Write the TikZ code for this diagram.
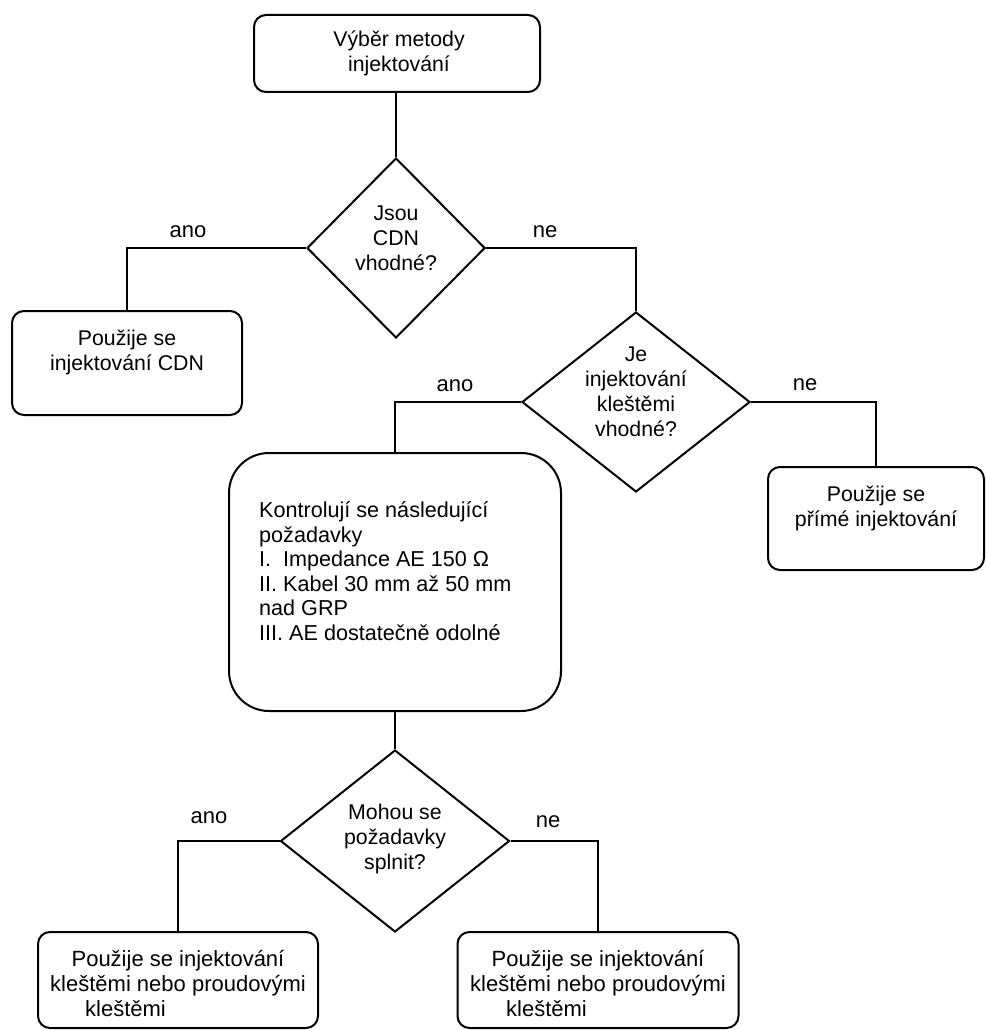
\documentclass[tikz,border=0pt]{standalone}
\usepackage{fontspec}
\setmainfont{Liberation Sans}
\usetikzlibrary{shapes.geometric}
\begin{document}
\begin{tikzpicture}[x=1pt,y=-1pt,
  box/.style={draw, line width=2pt, rounded corners=12pt, inner sep=0pt},
  dia/.style={draw, diamond, line width=2pt, inner sep=0pt},
  txt/.style={align=center, font=\fontsize{21.3}{25}\selectfont, inner sep=0pt},
  ltxt/.style={align=left, font=\fontsize{21.6}{24.5}\selectfont, inner sep=0pt},
  btxt/.style={align=center, font=\fontsize{22}{25}\selectfont, inner sep=0pt},
  lbl/.style={font=\fontsize{22}{25}\selectfont, inner sep=0pt},
  conn/.style={line width=2pt}]
\useasboundingbox (0,0) rectangle (985,1030);

% boxes and decisions
\node[box, minimum width=286pt, minimum height=77pt] (top) at (397,53.5) {};
\node[txt] (ttop) at (399,53.5) {Výběr metody\\injektování};

\node[dia, minimum width=178pt, minimum height=180pt] (d1) at (396,248) {};
\node[txt] (td1) at (396,238) {Jsou\\CDN\\vhodné?};

\node[box, minimum width=230pt, minimum height=104pt] (cdn) at (127,363) {};
\node[txt] (tcdn) at (127,352) {Použije se\\injektování CDN};

\node[dia, minimum width=228pt, minimum height=180pt] (d2) at (636,402) {};
\node[txt] (td2) at (636,392) {Je\\injektování\\kleštěmi\\vhodné?};

\node[box, minimum width=216pt, minimum height=103pt] (prime) at (876,518.5) {};
\node[txt] (tprime) at (876,508) {Použije se\\přímé injektování};

\node[box, rounded corners=40pt, minimum width=332pt, minimum height=258pt] (big) at (395,582) {};
\node[ltxt, anchor=west] (tbig) at (259,571) {Kontrolují se následující\\požadavky\\I.\ \ Impedance AE 150 Ω\\II. Kabel 30 mm až 50 mm\\nad GRP\\III. AE dostatečně odolné};

\node[dia, minimum width=229pt, minimum height=182pt] (d3) at (395,841) {};
\node[txt] (td3) at (395,839) {Mohou se\\požadavky\\splnit?};

\node[box, minimum width=280pt, minimum height=96pt] (bl) at (178,980) {};
\node[btxt] (tbl) at (178,983) {Použije se injektování\\kleštěmi nebo proudovými\\kleštěmi\hspace*{105pt}};

\node[box, minimum width=281pt, minimum height=96pt] (br) at (598,980) {};
\node[btxt] (tbr) at (598,983) {Použije se injektování\\kleštěmi nebo proudovými\\kleštěmi\hspace*{103pt}};

% connectors
\draw[conn] (top.south -| d1.north) -- (d1.north);
\draw[conn] (d1.west) -| (cdn.north);
\draw[conn] (d1.east) -| (d2.north);
\draw[conn] (d2.west) -| (big.north);
\draw[conn] (d2.east) -| (prime.north);
\draw[conn] (big.south) -- (d3.north);
\draw[conn] (d3.west) -| (bl.north);
\draw[conn] (d3.east) -| (br.north);

% branch labels
\node[lbl] (l1) at (188,232) {ano};
\node[lbl] (l2) at (545,232) {ne};
\node[lbl] (l3) at (455,386) {ano};
\node[lbl] (l4) at (805,385) {ne};
\node[lbl] (l5) at (209,818) {ano};
\node[lbl] (l6) at (548,822) {ne};
\end{tikzpicture}
\end{document}
